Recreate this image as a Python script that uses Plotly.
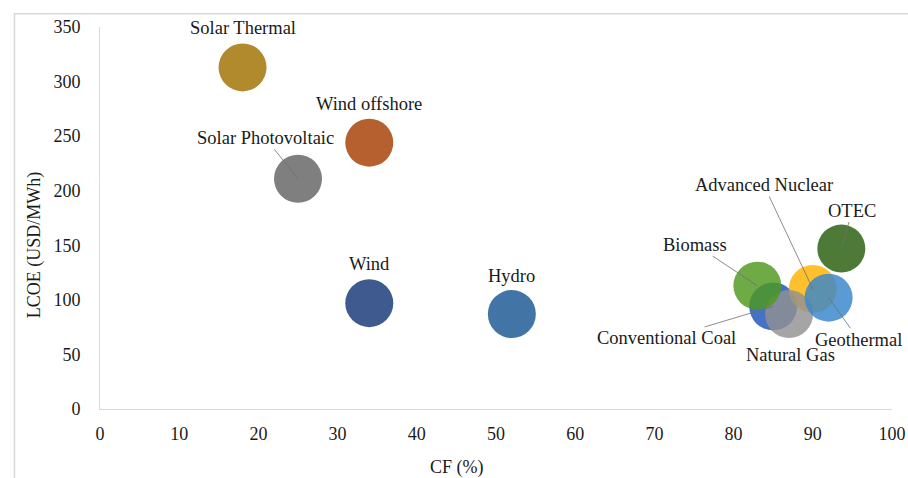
import plotly.graph_objects as go

# ---- data ----
technologies = ["Conventional Coal", "Advanced Nuclear", "Natural Gas", "Geothermal",
                "Biomass", "OTEC", "Wind", "Hydro", "Solar Photovoltaic",
                "Wind offshore", "Solar Thermal"]
cf_percent = [85, 90, 87, 92, 83, 93.6, 34, 52, 25, 34, 18]
lcoe_usd_mwh = [94, 110, 87, 102, 113, 147, 97, 87, 211, 244, 313]
x_ticks = list(range(0, 101, 10))
y_ticks = list(range(0, 351, 50))
x_title = "CF (%)"
y_title = "LCOE (USD/MWh)"

# ---- styles ----
observed_colors = {
    "Conventional Coal": "#4472C4", "Advanced Nuclear": "#FFC000",
    "Natural Gas": "#A5A5A5", "Geothermal": "#5B9BD5", "Biomass": "#6EAB46",
    "OTEC": "#4E7A38", "Wind": "#3F5A8E", "Hydro": "#4275A5",
    "Solar Photovoltaic": "#7F7F7F", "Wind offshore": "#B5602B",
    "Solar Thermal": "#B28A25",
}
ALPHA = 0.82


def to_rgba(hex_color, alpha):
    h = hex_color.lstrip("#")
    vals = [int(h[i:i + 2], 16) for i in (0, 2, 4)]
    base = [max(0, min(255, round(255 - (255 - v) / alpha))) for v in vals]
    return f"rgba({base[0]},{base[1]},{base[2]},{alpha})"


# label placement: ("arrow", ax, ay) leader-line labels, or ("shift", dx, dy)
label_style = {
    "Solar Thermal": ("shift", 0, 39),
    "Wind offshore": ("shift", 0, 39),
    "Wind": ("shift", 0, 39),
    "Hydro": ("shift", 0, 38),
    "Natural Gas": ("shift", 1, -41),
    "Solar Photovoltaic": ("arrow", -33, -41),
    "OTEC": ("arrow", 11, -38),
    "Biomass": ("arrow", -62, -41),
    "Advanced Nuclear": ("arrow", -49, -104),
    "Geothermal": ("arrow", 30, 42),
    "Conventional Coal": ("arrow", -107, 32),
}

FONT = "Liberation Serif"
TEXT_COLOR = "#1a1a1a"
LABEL_SIZE = 18.5
TICK_SIZE = 18

fig = go.Figure()
fig.add_trace(go.Scatter(
    x=cf_percent, y=lcoe_usd_mwh, mode="markers", text=technologies,
    marker=dict(size=48, sizemode="diameter",
                color=[to_rgba(observed_colors[t], ALPHA) for t in technologies],
                line=dict(width=0)),
    hovertemplate="%{text}<br>CF %{x}%<br>LCOE %{y}<extra></extra>",
    showlegend=False,
))

annotations = []
for t, xv, yv in zip(technologies, cf_percent, lcoe_usd_mwh):
    kind, a, b = label_style[t]
    if kind == "shift":
        annotations.append(dict(x=xv, y=yv, text=t, showarrow=False,
                                xshift=a, yshift=b,
                                font=dict(family=FONT, size=LABEL_SIZE, color=TEXT_COLOR)))
    else:
        annotations.append(dict(x=xv, y=yv, text=t, showarrow=True,
                                ax=a, ay=b, arrowhead=0, arrowwidth=0.8,
                                arrowcolor="#6f6f6f", standoff=0, startstandoff=0,
                                font=dict(family=FONT, size=LABEL_SIZE, color=TEXT_COLOR)))

# axis titles (centred on the whole chart area, as in the original)
annotations.append(dict(xref="paper", yref="paper", x=0.451, y=-0.152,
                        xanchor="center", yanchor="middle", showarrow=False,
                        text=x_title, font=dict(family=FONT, size=TICK_SIZE, color=TEXT_COLOR)))
annotations.append(dict(xref="paper", yref="paper", x=-0.0833, y=0.429,
                        xanchor="center", yanchor="middle", showarrow=False, textangle=-90,
                        text=y_title, font=dict(family=FONT, size=TICK_SIZE, color=TEXT_COLOR)))

fig.update_layout(
    width=908, height=478,
    margin=dict(l=100, r=16, t=27, b=69, autoexpand=False),
    paper_bgcolor="white", plot_bgcolor="white",
    font=dict(family=FONT, size=TICK_SIZE, color=TEXT_COLOR),
    annotations=annotations,
    shapes=[dict(type="rect", xref="paper", yref="paper",
                 x0=-0.108, x1=1.05, y0=-0.25, y1=1.035,
                 line=dict(color="#D9D9D9", width=1.5), layer="below")],
)
fig.update_xaxes(
    range=[0, 100], tickvals=x_ticks, showgrid=False, zeroline=False,
    showline=True, linecolor="#D9D9D9", linewidth=1, automargin=False,
    ticklabelstandoff=8, tickfont=dict(family=FONT, size=TICK_SIZE, color=TEXT_COLOR),
)
fig.update_yaxes(
    range=[0, 350], tickvals=y_ticks, showgrid=False, zeroline=False,
    showline=True, linecolor="#D9D9D9", linewidth=1, automargin=False,
    ticklabelstandoff=15, tickfont=dict(family=FONT, size=TICK_SIZE, color=TEXT_COLOR),
)

# remove the browser's default 8px body margin so the 908x478 figure fills the window exactly
fig.write_html(
    "out.html",
    config={"displayModeBar": False},
    post_script=("document.documentElement.style.margin='0';"
                 "document.body.style.margin='0';"
                 "document.documentElement.style.overflow='hidden';"
                 "document.body.style.overflow='hidden';"),
)
